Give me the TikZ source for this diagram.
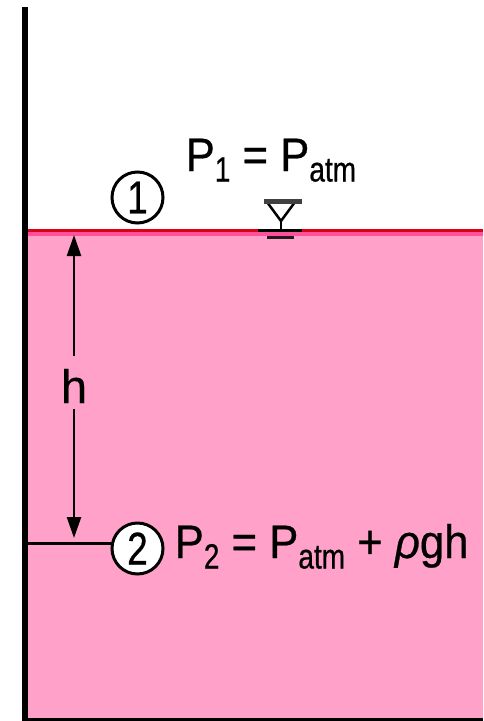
\documentclass[tikz,border=0pt]{standalone}
\usepackage{fontspec}
\setmainfont{Liberation Sans}
\newfontfamily\narf[FakeStretch=0.93,FakeBold=0.6]{Liberation Sans}
\newfontfamily\subf[FakeStretch=0.8,FakeBold=0.6]{Liberation Sans}
\newfontfamily\hf[FakeBold=0.4]{Liberation Sans}
\usetikzlibrary{arrows.meta}
\definecolor{water}{RGB}{255,161,201}
\definecolor{band}{RGB}{255,80,155}
\definecolor{surf}{RGB}{222,0,20}
\newcommand{\mysub}[1]{\raisebox{-10.5pt}{\subf\fontsize{35}{35}\selectfont #1}}
\tikzset{
  lbl/.style={inner sep=0pt, anchor=base west, font=\narf\fontsize{47}{47}\selectfont},
  circ/.style={circle, draw, line width=3pt, minimum size=51pt, inner sep=0pt, fill=white,
               font=\subf\fontsize{46}{46}\selectfont},
  harrow/.style={line width=2.5pt, -{Triangle[length=21pt,width=14pt]}},
  thin/.style={line width=3pt}
}
\begin{document}
\begin{tikzpicture}[x=1pt,y=-1pt]
\useasboundingbox (0,0) rectangle (483,721);
% liquid
\fill[water] (28,232) rectangle (483,718);
\fill[band] (28,232) rectangle (483,236);
\fill[surf] (28,229) rectangle (483,232);
% wall and bottom
\fill[black] (22,7) rectangle (28,721);
\fill[black] (22,718) rectangle (483,721);
% free-surface symbol
\fill[black] (258,229) rectangle (302,232);
\fill[black!85!water] (267,236) rectangle (294,239);
\draw[line width=2.5pt, line join=miter] (267,202) -- (281,221) -- (295,202);
\draw[line width=5pt, black!75] (264,201) -- (302,201);
\draw[line width=2pt] (281,220) -- (281,229);
% point 1
\node[circ] (c1) at (137.5,197.5) {1};
\node[lbl] (p1) at (185.5,171) {P\mysub{1} = P\mysub{atm}};
% point 2
\node[circ] (c2) at (137.5,548.5) {2};
\node[lbl] (p2) at (174.5,558) {P\mysub{2} = P\mysub{atm} + {\itshape ρ}gh};
\coordinate (wl) at (28,543);
\draw[thin] (wl) -- (wl -| c2.west);
% depth h
\coordinate (ht) at (74,235);
\coordinate (hb) at (74,538);
\node[inner sep=0pt, anchor=base, font=\hf\fontsize{47}{47}\selectfont] (h) at (74,403) {h};
\draw[harrow] ([yshift=13pt]h.north) -- (ht);
\draw[harrow] ([yshift=-6pt]h.south) -- (hb);
\end{tikzpicture}
\end{document}
